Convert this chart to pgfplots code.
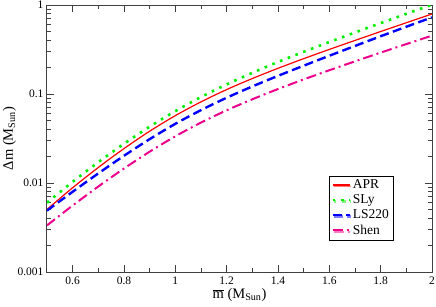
\documentclass[border=0pt]{standalone}
\usepackage{fontspec}
\setmainfont{Liberation Serif}
\usepackage{pgfplots}
\pgfplotsset{compat=1.18}
\usetikzlibrary{shadows}
\definecolor{slygreen}{RGB}{0,240,0}
\begin{document}
\begin{tikzpicture}
\begin{axis}[
  at={(0pt,0pt)}, anchor=south west,
  scale only axis, width=385pt, height=267pt,
  ymode=log, xmin=0.5, xmax=2, ymin=0.001, ymax=1,
  xtick={0.6,0.8,1,1.2,1.4,1.6,1.8,2},
  xticklabels={0.6,0.8,1,1.2,1.4,1.6,1.8,2},
  minor xtick={0.7,0.9,1.1,1.3,1.5,1.7,1.9},
  ytick={0.001,0.01,0.1,1},
  yticklabels={0.001,0.01,0.1,1},
  minor ytick={0.002,0.003,0.004,0.005,0.006,0.007,0.008,0.009,
               0.02,0.03,0.04,0.05,0.06,0.07,0.08,0.09,
               0.2,0.3,0.4,0.5,0.6,0.7,0.8,0.9},
  xtick pos=both, ytick pos=both, tick align=inside,
  major tick length=7pt, minor tick length=4pt,
  every tick/.style={black!75, line width=0.9pt},
  axis line style={black!75, line width=1pt},
  ticklabel style={font=\fontsize{11.5}{12}\selectfont},
  xticklabel style={yshift=-1pt},
  label style={font=\fontsize{14.5}{16}\selectfont},
  xlabel={$\overline{\mbox{m}}$ (M\textsubscript{Sun})},
  ylabel={Δm (M\textsubscript{Sun})},
  xlabel style={yshift=3pt},
  ylabel style={inner sep=1pt, yshift=-3pt},
  legend style={at={(rel axis cs:0.899,0.361)}, anchor=north east,
    draw=black, fill=white, font=\fontsize{13.5}{14}\selectfont,
    inner sep=2pt, row sep=0.6pt,
    drop shadow={shadow xshift=1.2pt, shadow yshift=-1.2pt, fill=gray}},
  legend cell align=left,
]
\addplot[red, line width=1.2pt, smooth] coordinates {
(0.5,0.005058) (0.6,0.008851) (0.7,0.014962) (0.8,0.024378) (0.9,0.038194)
(1.0,0.057148) (1.1,0.081658) (1.2,0.11220) (1.3,0.14928) (1.4,0.19454)
(1.5,0.24946) (1.6,0.31696) (1.7,0.39994) (1.8,0.50350) (1.9,0.63241) (2.0,0.79250)};
\addlegendentry{APR}
\addplot[slygreen, line width=2.6pt, dash pattern=on 2.6pt off 5.7pt, smooth] coordinates {
(0.5,0.006012) (0.6,0.010304) (0.7,0.017140) (0.8,0.027606) (0.9,0.042954)
(1.0,0.064269) (1.1,0.092470) (1.2,0.12823) (1.3,0.17298) (1.4,0.22909)
(1.5,0.29785) (1.6,0.38371) (1.7,0.49091) (1.8,0.62661) (1.9,0.79616) (2.0,1.0093)};
\addlegendentry{SLy}
\addplot[blue, line width=2.4pt, dash pattern=on 9pt off 4.5pt, smooth] coordinates {
(0.5,0.0048978) (0.6,0.0079799) (0.7,0.012823) (0.8,0.020230) (0.9,0.031117)
(1.0,0.046238) (1.1,0.065917) (1.2,0.090782) (1.3,0.12162) (1.4,0.15996)
(1.5,0.20797) (1.6,0.26915) (1.7,0.34674) (1.8,0.44566) (1.9,0.57016) (2.0,0.72611)};
\addlegendentry{LS220}
\addplot[magenta, line width=2pt, dash pattern=on 10pt off 4pt on 2pt off 4pt, smooth] coordinates {
(0.5,0.003342) (0.6,0.0055847) (0.7,0.0091411) (0.8,0.014555) (0.9,0.022491)
(1.0,0.033497) (1.1,0.047753) (1.2,0.065615) (1.3,0.087297) (1.4,0.11376)
(1.5,0.14588) (1.6,0.18493) (1.7,0.23281) (1.8,0.29174) (1.9,0.36392) (2.0,0.45290)};
\addlegendentry{Shen}
\end{axis}
\pgfresetboundingbox
\path (-47pt,-34pt) rectangle (389pt,272pt);
\end{tikzpicture}
\end{document}
